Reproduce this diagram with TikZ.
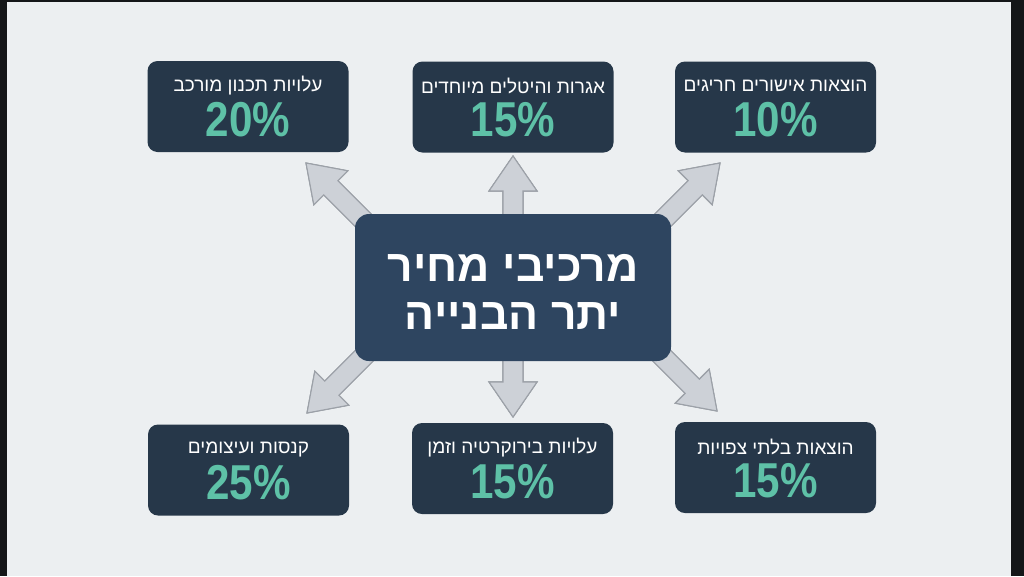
\documentclass[tikz,border=0pt]{standalone}
\usepackage{fontspec}
\setmainfont{Liberation Sans}
\newfontfamily\heb[Script=Hebrew]{Liberation Sans}
\newfontfamily\pctfont[FakeStretch=0.86]{Liberation Sans}
\TeXXeTstate=1
\usetikzlibrary{calc}
\pgfdeclarelayer{bg}
\pgfdeclarelayer{arr}
\pgfsetlayers{bg,arr,main}
\definecolor{frame}{HTML}{141618}
\definecolor{screen}{HTML}{ECEFF1}
\definecolor{navybox}{HTML}{263749}
\definecolor{navyc}{HTML}{2E4560}
\definecolor{pctc}{HTML}{5EC1A7}
\definecolor{arrfill}{HTML}{CDD1D7}
\definecolor{arrline}{HTML}{9CA1A8}
\definecolor{arrshadow}{HTML}{8E939A}
\tikzset{
  box/.style={fill=navybox, rounded corners=10pt, minimum width=201pt, minimum height=91pt, inner sep=0pt},
  cbox/.style={fill=navyc, rounded corners=14pt, minimum width=316pt, minimum height=147pt, inner sep=0pt},
  lbl/.style={text=white, inner sep=0pt, font=\heb\fontsize{19}{22}\selectfont},
  pcts/.style={text=pctc, inner sep=0pt, font=\pctfont\bfseries\fontsize{49}{50}\selectfont},
  ttl/.style={text=white, align=center, inner sep=0pt, font=\heb\bfseries\fontsize{44.5}{48}\selectfont},
  arrsty/.style={fill=arrfill, draw=arrline, line width=1.1pt, line join=miter},
  arrshad/.style={fill=arrshadow, draw=arrshadow, line width=1.1pt, line join=miter}
}
\newcommand\arrowpath[2]{%
  let \p1=(#1), \p2=(#2), \n1={atan2(\y2-\y1,\x2-\x1)}, \n2={veclen(\x2-\x1,\y2-\y1)-35pt} in
  ($(\p1)+({\n1+90}:10pt)$) -- ($(\p1)+(\n1:\n2)+({\n1+90}:10pt)$) -- ($(\p1)+(\n1:\n2)+({\n1+90}:24pt)$) -- (\p2)
  -- ($(\p1)+(\n1:\n2)+({\n1-90}:24pt)$) -- ($(\p1)+(\n1:\n2)+({\n1-90}:10pt)$) -- ($(\p1)+({\n1-90}:10pt)$) -- cycle}
\newcommand\blockarrow[2]{%
  \draw[arrshad, shift={(1.6pt,-1.6pt)}] \arrowpath{#1}{#2};
  \draw[arrsty] \arrowpath{#1}{#2};}
\begin{document}
\begin{tikzpicture}[x=1pt,y=-1pt]
\useasboundingbox (0,0) rectangle (1024,576);
\begin{pgfonlayer}{bg}
\fill[frame] (0,0) rectangle (1024,576);
\fill[screen] (7,2) rectangle (1011,576);
\end{pgfonlayer}
% center
\node[cbox] (c) at (513,287.5) {};
\node[ttl] (ct) at ($(c.center)+(0,4)$) {\beginR מרכיבי מחיר\endR\\\beginR יתר הבנייה\endR};
% boxes
\node[box] (tl) at (248,106.5) {};
\node[box] (tm) at (513,107) {};
\node[box] (tr) at (775.5,107) {};
\node[box] (bl) at (248.5,470) {};
\node[box] (bm) at (512.5,468.5) {};
\node[box] (br) at (775.5,467.5) {};
\node[lbl] (tll) at ($(tl.center)+(0,-21)$) {\beginR עלויות תכנון מורכב\endR};
\node[pcts] (tlp) at ($(tl.center)+(0,13)$) {20\%};
\node[lbl] (tml) at ($(tm.center)+(0,-21)$) {\beginR אגרות והיטלים מיוחדים\endR};
\node[pcts] (tmp) at ($(tm.center)+(0,13)$) {15\%};
\node[lbl] (trl) at ($(tr.center)+(0,-21)$) {\beginR הוצאות אישורים חריגים\endR};
\node[pcts] (trp) at ($(tr.center)+(0,13)$) {10\%};
\node[lbl] (bll) at ($(bl.center)+(0,-21)$) {\beginR קנסות ועיצומים\endR};
\node[pcts] (blp) at ($(bl.center)+(0,13)$) {25\%};
\node[lbl] (bml) at ($(bm.center)+(0,-21)$) {\beginR עלויות בירוקרטיה וזמן\endR};
\node[pcts] (bmp) at ($(bm.center)+(0,13)$) {15\%};
\node[lbl] (brl) at ($(br.center)+(0,-21)$) {\beginR הוצאות בלתי צפויות\endR};
\node[pcts] (brp) at ($(br.center)+(0,13)$) {15\%};
% arrow end points
\coordinate (s-tl) at (390,247); \coordinate (t-tl) at (306,163);
\coordinate (s-tm) at (513,240); \coordinate (t-tm) at (513,156);
\coordinate (s-tr) at (636,247); \coordinate (t-tr) at (720,163);
\coordinate (s-bl) at (390,330); \coordinate (t-bl) at (307,413);
\coordinate (s-bm) at (513,335); \coordinate (t-bm) at (513,417);
\coordinate (s-br) at (636,330); \coordinate (t-br) at (717,411);
\begin{pgfonlayer}{arr}
\blockarrow{s-tl}{t-tl}
\blockarrow{s-tm}{t-tm}
\blockarrow{s-tr}{t-tr}
\blockarrow{s-bl}{t-bl}
\blockarrow{s-bm}{t-bm}
\blockarrow{s-br}{t-br}
\end{pgfonlayer}
\end{tikzpicture}
\end{document}
